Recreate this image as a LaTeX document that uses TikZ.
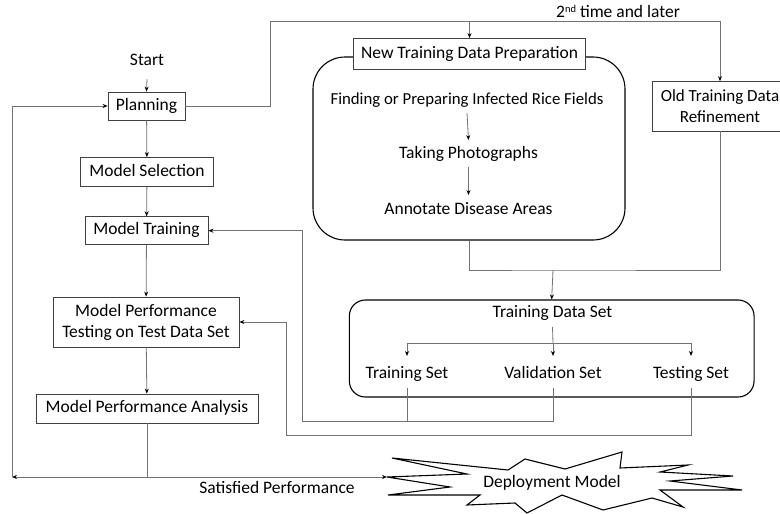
\documentclass[tikz,border=0pt]{standalone}
\usepackage{fontspec}
\setmainfont{Carlito}
\usetikzlibrary{arrows.meta,calc}
\begin{document}
\begin{tikzpicture}[x=1pt,y=-1pt,
  every node/.style={font=\fontsize{17.5}{21}\selectfont},
  box/.style={draw=black!75,line width=0.8pt,fill=white,inner sep=0pt,align=center},
  one/.style={text height=12.5pt,text depth=4pt},
  lbl/.style={inner sep=0pt,align=center,one},
  conn/.style={draw=black!55,line width=0.8pt},
  arr/.style={conn,-{Stealth[length=5pt,width=4pt,black]}},
  rbox/.style={draw=black,line width=1.1pt,inner sep=0pt}]
\clip (0,0) rectangle (780,514);
\fill[white] (0,0) rectangle (780,514);

% left column
\node[lbl] (start) at (147,61) {Start};
\node[box,one,minimum width=77pt,minimum height=28pt] (planning) at (146.5,106) {Planning};
\node[box,one,minimum width=133pt,minimum height=29pt] (selection) at (147,172) {Model Selection};
\node[box,one,minimum width=123pt,minimum height=28pt] (training) at (146.5,230.7) {Model Training};
\node[box,minimum width=186pt,minimum height=50pt] (mpt) at (146,322) {Model Performance\\Testing on Test Data Set};
\node[box,one,minimum width=222pt,minimum height=29pt] (mpa) at (147,408.5) {Model Performance Analysis};

% new training data preparation
\node[rbox,rounded corners=32pt,minimum width=312pt,minimum height=183pt] (newbox) at (469,148.5) {};
\node[box,one,minimum width=232pt,minimum height=31pt] (newtitle) at (469.5,54) {New Training Data Preparation};
\node[lbl,font=\fontsize{16.8}{20}\selectfont] (find) at (467,100) {Finding or Preparing Infected Rice Fields};
\node[lbl] (photo) at (468.5,154) {Taking Photographs};
\node[lbl] (annot) at (468.5,210) {Annotate Disease Areas};

% old training data refinement
\node[box,minimum width=136pt,minimum height=49.5pt,font=\fontsize{17}{20.5}\selectfont] (old) at (720,106.3) {Old Training Data\\Refinement};

% training data set
\node[rbox,rounded corners=16pt,minimum width=404.7pt,minimum height=97pt] (tdsbox) at (551.7,348.5) {};
\node[lbl] (tds) at (552.5,313) {Training Data Set};
\node[lbl] (trs) at (407,374) {Training Set};
\node[lbl] (vs) at (553,374) {Validation Set};
\node[lbl] (ts) at (691,374) {Testing Set};

% labels
\node[lbl] (second) at (618,13) {2\raisebox{5pt}{\fontsize{10.5}{10.5}\selectfont nd} time and later};
\node[lbl] (sat) at (277,489) {Satisfied Performance};

% deployment starburst
\draw[black,line width=1.1pt,line join=miter,fill=white]
  (392,458) -- (508,470) -- (525,459) -- (565,469) -- (622,452) -- (620,468)
  -- (688,465) -- (660,472) -- (733,476) -- (670,481) -- (742,490) -- (660,490)
  -- (683,507) -- (652,498) -- (603,510) -- (562,495) -- (527,513) -- (515,503)
  -- (467,505) -- (480,495) -- (388,495) -- (450,487) -- (387,477) -- (467,474) -- cycle;
\node[lbl] (deploy) at (552,483) {Deployment Model};

% coordinates
\coordinate (c1) at (270,21);
\coordinate (c2) at (720,21);
\coordinate (j) at (553,270);
\coordinate (split) at (553,343);
\coordinate (r1) at (302.7,421.7);
\coordinate (r2) at (286.7,435);
\coordinate (b) at (147,477);
\coordinate (lt) at (12,477);
\coordinate (dtip) at (387,477);

% left column connectors
\draw[arr] ($(start.center)+(0,18)$) -- (planning.north);
\draw[arr] (planning) -- (selection);
\draw[arr] (selection) -- (training);
\draw[arr] (training) -- (mpt);
\draw[arr] (mpt) -- (mpa);

% planning to data preparation
\draw[arr] (planning.east) -| (c1) -- (c2) -- (old.north);
\draw[arr] (newtitle.north |- c1) -- (newtitle.north);

% inside new box
\draw[arr] ($(find.center)+(0,13)$) -- ($(photo.center)+(0,-14)$);
\draw[arr] ($(photo.center)+(0,13)$) -- ($(annot.center)+(0,-15)$);

% merge into training data set
\draw[conn] (newbox.south) |- (j) -| (old.south);
\draw[arr] (j) -- (tdsbox.north);

% split
\draw[conn] ($(tds.center)+(0,14)$) -- (split);
\draw[arr] (split) -- ($(vs.center)+(0,-18)$);
\draw[arr] (split) -| ($(trs.center)+(0,-18)$);
\draw[arr] (split) -| ($(ts.center)+(0,-18)$);

% returns
\draw[arr] ($(trs.center)+(0,14)$) |- (r1) |- (training.east);
\draw[conn] ($(vs.center)+(0,14)$) |- (trs.center |- r1);
\draw[arr] ($(ts.center)+(0,14)$) |- (r2) |- (mpt.east);

% analysis outcome
\draw[conn] (mpa.south) -- (b);
\draw[arr] (b) -- (dtip);
\draw[arr] (b) -- (lt);
\draw[arr] (lt) |- (planning.west);
\end{tikzpicture}
\end{document}
